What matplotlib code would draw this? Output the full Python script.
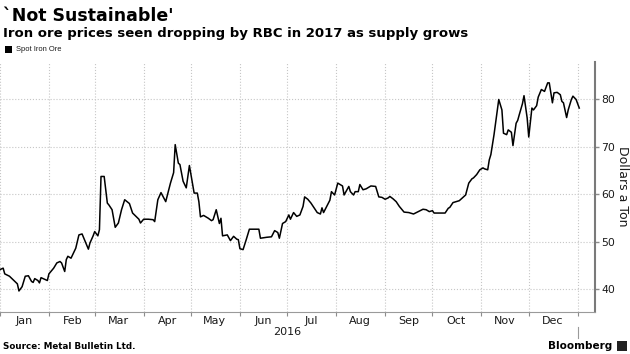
import pandas as pd
import matplotlib
matplotlib.use('Agg')
import matplotlib.pyplot as plt
import matplotlib.dates as mdates
from matplotlib.lines import Line2D
from matplotlib.patches import Rectangle

# Spot iron ore, dollars a ton, day offsets from 2016-01-01
days = [0, 2, 3, 6, 10, 11, 12, 14, 16, 18, 20, 21, 22, 24, 25, 26, 28, 30, 31, 34,
        36, 38, 39, 41, 42, 43, 45, 46, 48, 50, 52, 54, 56, 57, 59, 60, 62, 63, 64, 66,
        68, 69, 71, 72, 73, 75, 77, 79, 82, 84, 88, 89, 91, 94, 97, 98, 100, 102, 105, 108,
        110, 111, 113, 114, 116, 118, 120, 123, 125, 126, 127, 129, 132, 134, 135, 137, 139, 140, 141, 144,
        146, 148, 150, 151, 152, 154, 156, 158, 160, 164, 165, 169, 172, 174, 176, 177, 179, 181, 183, 184,
        186, 188, 190, 192, 193, 195, 197, 201, 203, 204, 205, 207, 209, 210, 212, 214, 215, 217, 218, 221,
        222, 224, 225, 227, 228, 230, 232, 235, 238, 240, 242, 244, 246, 247, 249, 251, 253, 256, 259, 262,
        265, 268, 270, 272, 274, 275, 279, 282, 284, 285, 287, 289, 291, 293, 295, 297, 299, 300, 302, 304,
        306, 307, 309, 310, 311, 313, 316, 318, 319, 321, 322, 324, 325, 327, 328, 329, 331, 332, 334, 335,
        337, 338, 340, 341, 343, 345, 347, 348, 350, 351, 353, 355, 356, 357, 359, 360, 362, 363, 365, 367]
prices = [44.1, 44.4, 43.2, 42.7, 41.4, 41.1, 39.6, 40.5, 42.7, 42.8, 41.6, 41.4, 42.2, 41.8, 41.3, 42.4, 42.1, 41.8, 43.2, 44.4,
          45.5, 45.8, 45.5, 43.7, 46.2, 46.9, 46.5, 47.2, 48.6, 51.4, 51.6, 50.0, 48.4, 49.7, 51.2, 52.1, 51.2, 52.5, 63.7, 63.7,
          58.1, 57.7, 56.7, 54.9, 53.0, 53.9, 56.7, 58.8, 58.0, 56.0, 54.7, 53.9, 54.7, 54.7, 54.6, 54.2, 58.8, 60.3, 58.4, 62.3,
          64.5, 70.4, 66.5, 66.2, 62.7, 61.3, 66.0, 60.2, 60.2, 58.4, 55.2, 55.5, 54.9, 54.4, 54.6, 56.7, 53.8, 54.9, 51.2, 51.4,
          50.2, 51.1, 50.5, 50.4, 48.5, 48.3, 50.4, 52.6, 52.6, 52.6, 50.7, 50.9, 51.0, 52.3, 51.9, 50.7, 53.8, 54.2, 55.6, 54.7,
          56.1, 55.3, 55.6, 57.4, 59.4, 58.9, 58.1, 56.1, 55.8, 57.1, 56.1, 57.4, 58.7, 60.5, 59.8, 62.3, 62.1, 61.7, 59.8, 61.6,
          60.5, 59.8, 60.5, 60.5, 62.0, 60.9, 61.1, 61.7, 61.6, 59.4, 59.3, 58.9, 59.2, 59.5, 59.0, 58.4, 57.4, 56.2, 56.1, 55.8,
          56.3, 56.8, 56.7, 56.3, 56.5, 56.0, 56.0, 56.0, 57.0, 57.2, 58.2, 58.4, 58.6, 59.2, 59.8, 62.3, 63.2, 63.4, 64.1, 65.1,
          65.5, 65.3, 65.1, 67.2, 68.3, 72.5, 79.9, 77.7, 72.8, 72.5, 73.5, 73.0, 70.2, 74.9, 75.5, 76.7, 79.0, 80.7, 76.0, 72.0,
          78.1, 77.7, 78.6, 80.4, 82.0, 81.6, 83.4, 83.4, 79.2, 81.3, 81.4, 80.9, 79.5, 79.2, 76.1, 77.7, 79.9, 80.6, 79.9, 78.1]

y_ticks = [40, 50, 60, 70, 80]

start = pd.Timestamp('2016-01-01')
dates = start + pd.to_timedelta(days, unit='D')

fig = plt.figure(figsize=(6.3, 3.54), dpi=100)
ax = fig.add_axes([0.0, 0.119, 0.944, 0.706])

ax.plot(dates, prices, color='black', linewidth=1.1)

ax.set_xlim(start, start + pd.Timedelta(days=376.8))
ax.set_ylim(35.2, 87.8)

# month boundaries as major ticks, month names centred between them
ax.xaxis.set_major_locator(mdates.MonthLocator())
ax.xaxis.set_major_formatter(plt.NullFormatter())
ax.xaxis.set_minor_locator(mdates.MonthLocator(bymonthday=16))
ax.xaxis.set_minor_formatter(mdates.DateFormatter('%b'))
ax.tick_params(axis='x', which='major', length=3, color='#8c8c8c', width=0.8)
ax.tick_params(axis='x', which='minor', length=0, labelsize=8, pad=3, labelcolor='#1a1a1a')

ax.set_yticks(y_ticks)
ax.yaxis.tick_right()
ax.tick_params(axis='y', length=3, color='#8c8c8c', width=1.0, labelsize=7.8, pad=1.5,
               labelcolor='#1a1a1a')

ax.grid(which='major', color='#c6c6c6', linestyle=':', linewidth=0.8)

for side in ['top', 'left']:
    ax.spines[side].set_visible(False)
ax.spines['right'].set_color('#7a7a7a')
ax.spines['right'].set_linewidth(1.5)
ax.spines['bottom'].set_color('#9a9a9a')
ax.spines['bottom'].set_linewidth(0.8)

# axis title on the right
fig.text(0.988, 0.474, 'Dollars a Ton', rotation=-90, fontsize=9, ha='center', va='center',
         color='#1a1a1a')

# year label and year separator
trans = ax.get_xaxis_transform()
ax.text(start + pd.Timedelta(days=182), -0.082, '2016', transform=trans, ha='center', va='center',
        fontsize=8, color='#1a1a1a')
year_end = start + pd.Timedelta(days=366)
ax.add_line(Line2D([year_end, year_end], [-0.06, -0.105], transform=trans, color='#9a9a9a',
                   linewidth=0.8, clip_on=False))

# titles
fig.text(0.004, 0.955, "`Not Sustainable'", fontsize=12.5, fontweight='bold', va='center', ha='left')
fig.text(0.004, 0.905, 'Iron ore prices seen dropping by RBC in 2017 as supply grows', fontsize=9.55,
         fontweight='bold', va='center', ha='left')

# legend
fig.patches.append(Rectangle((0.008, 0.851), 0.011, 0.019, transform=fig.transFigure,
                             facecolor='black', edgecolor='none'))
fig.text(0.025, 0.860, 'Spot Iron Ore', fontsize=5.4, family=['Liberation Sans', 'DejaVu Sans'],
         va='center', ha='left', color='#1a1a1a')

# footer
fig.text(0.005, 0.022, 'Source: Metal Bulletin Ltd.', fontsize=6.3, fontweight='bold', va='center', ha='left')
fig.text(0.972, 0.022, 'Bloomberg', fontsize=7.5, fontweight='bold', va='center', ha='right')
fig.patches.append(Rectangle((0.979, 0.008), 0.016, 0.03, transform=fig.transFigure,
                             facecolor='#222222', edgecolor='none'))

fig.savefig('out.png', dpi=100)
